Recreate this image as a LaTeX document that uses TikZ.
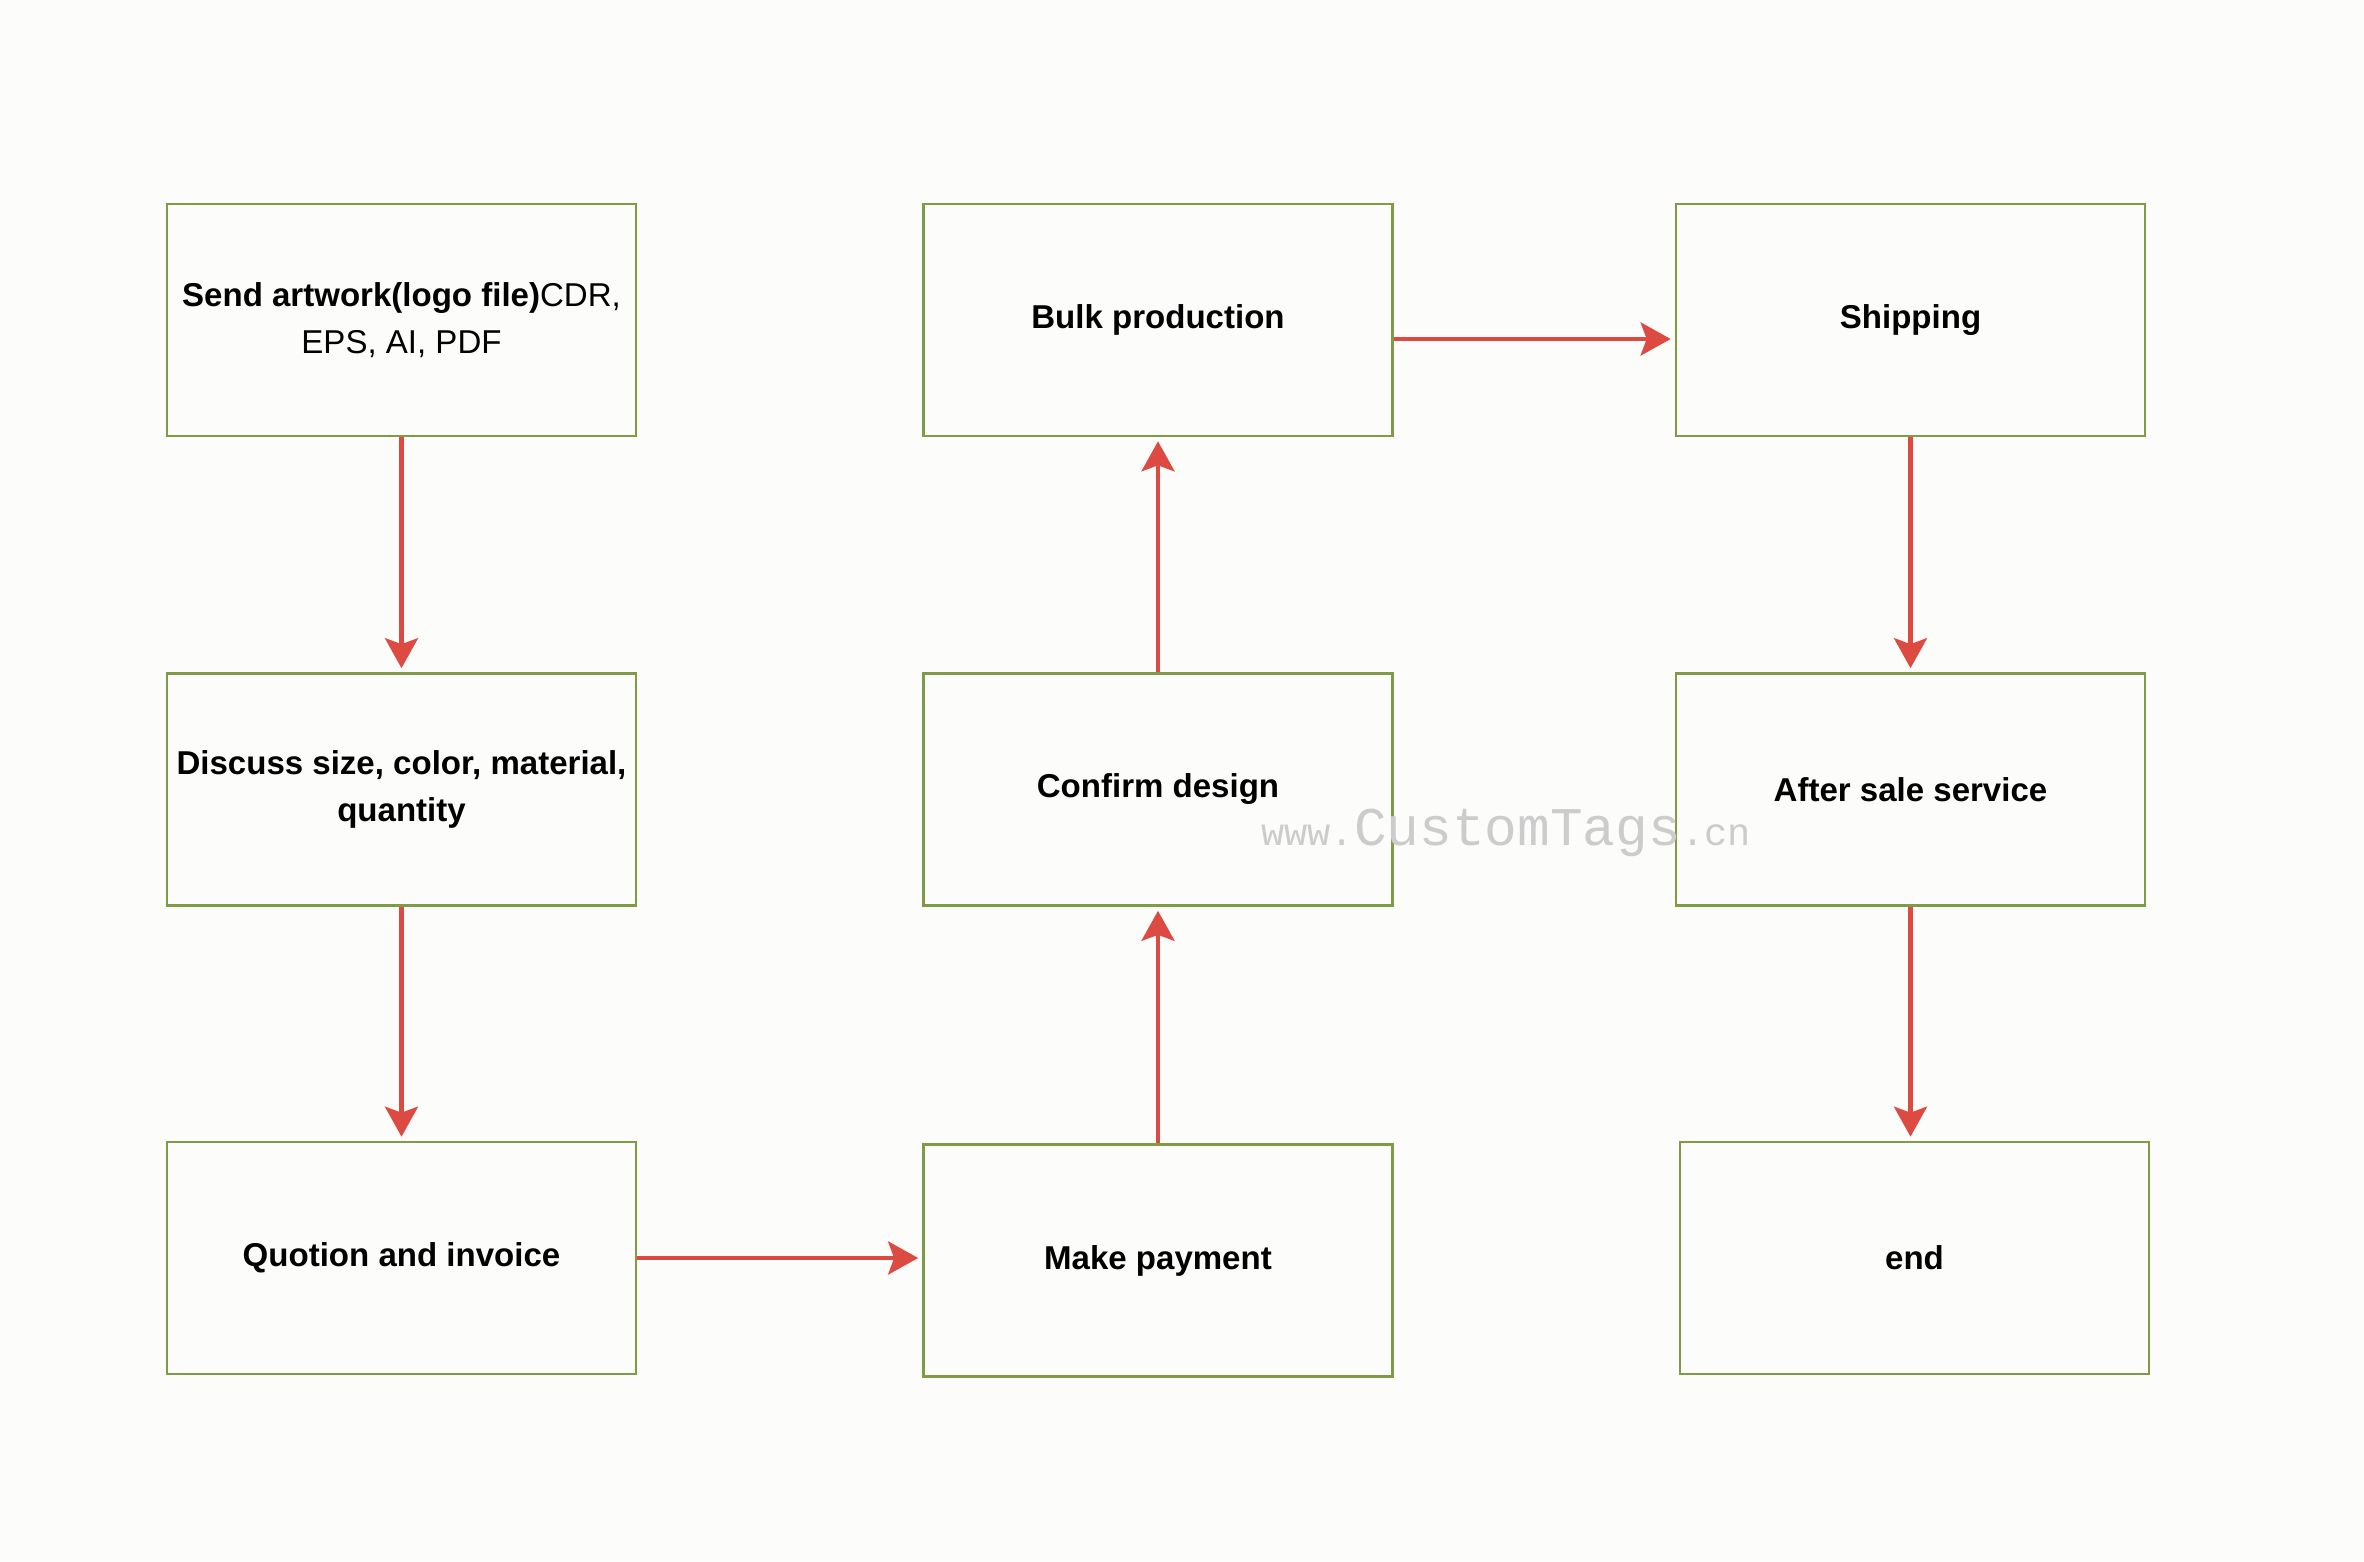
\documentclass[tikz,border=0pt]{standalone}
\usepackage{fontspec}
\setmainfont{Liberation Sans}
\newfontfamily\markfont{Liberation Mono}
\usetikzlibrary{arrows.meta}
\definecolor{boxgreen}{HTML}{7F9B45}
\definecolor{flowred}{HTML}{DD4A42}
\definecolor{paper}{HTML}{FCFCFA}

\begin{document}
\begin{tikzpicture}[
    box/.style={draw=boxgreen, line width=0.75pt, minimum width=4.69cm,
        minimum height=2.32cm, inner sep=0pt, align=center,
        font=\fontsize{9.4}{13.2}\selectfont\bfseries},
    flow/.style={draw=flowred, line width=1.2pt, shorten >=0.4mm,
        -{Stealth[length=3mm, width=3.3mm, inset=0.6mm]}, flowred}
]

    \fill[paper] (0,0) rectangle (23.64,15.61);
    \useasboundingbox (0,0) rectangle (23.64,15.61);

    \node[box] (art) at (4.015,12.41) {Send artwork(logo file)\mdseries CDR,\\\mdseries EPS, AI, PDF};
    \node[box] (talk) at (4.015,7.715) {Discuss size, color, material,\\quantity};
    \node[box] (quote) at (4.015,3.03) {Quotion and invoice};

    \node[box] (bulk) at (11.58,12.41) {Bulk production};
    \node[box] (confirm) at (11.58,7.715) {Confirm design};
    \node[box] (pay) at (11.58,3.005) {Make payment};

    \node[box] (ship) at (19.105,12.41) {Shipping};
    \node[box] (service) at (19.105,7.715) {After sale service};
    \node[box] (end) at (19.145,3.03) {end};

    % watermark
    \node[gray!40, font=\markfont] (mark) at (15.06,7.28)
        {\fontsize{11}{11}\selectfont www.\fontsize{15.5}{15.5}\selectfont CustomTags\fontsize{11}{11}\selectfont .cn};

    \draw[flow] (art) -- (talk);
    \draw[flow] (talk) -- (quote);
    \draw[flow] (quote) -- (quote -| pay.west);
    \draw[flow] (pay) -- (confirm);
    \draw[flow] (confirm) -- (bulk);
    \draw[flow] ([yshift=-1.9mm]bulk.east) -- ([yshift=-1.9mm]ship.west);
    \draw[flow] (ship) -- (service);
    \draw[flow] (service.south) -- (service.south |- end.north);

\end{tikzpicture}
\end{document}
